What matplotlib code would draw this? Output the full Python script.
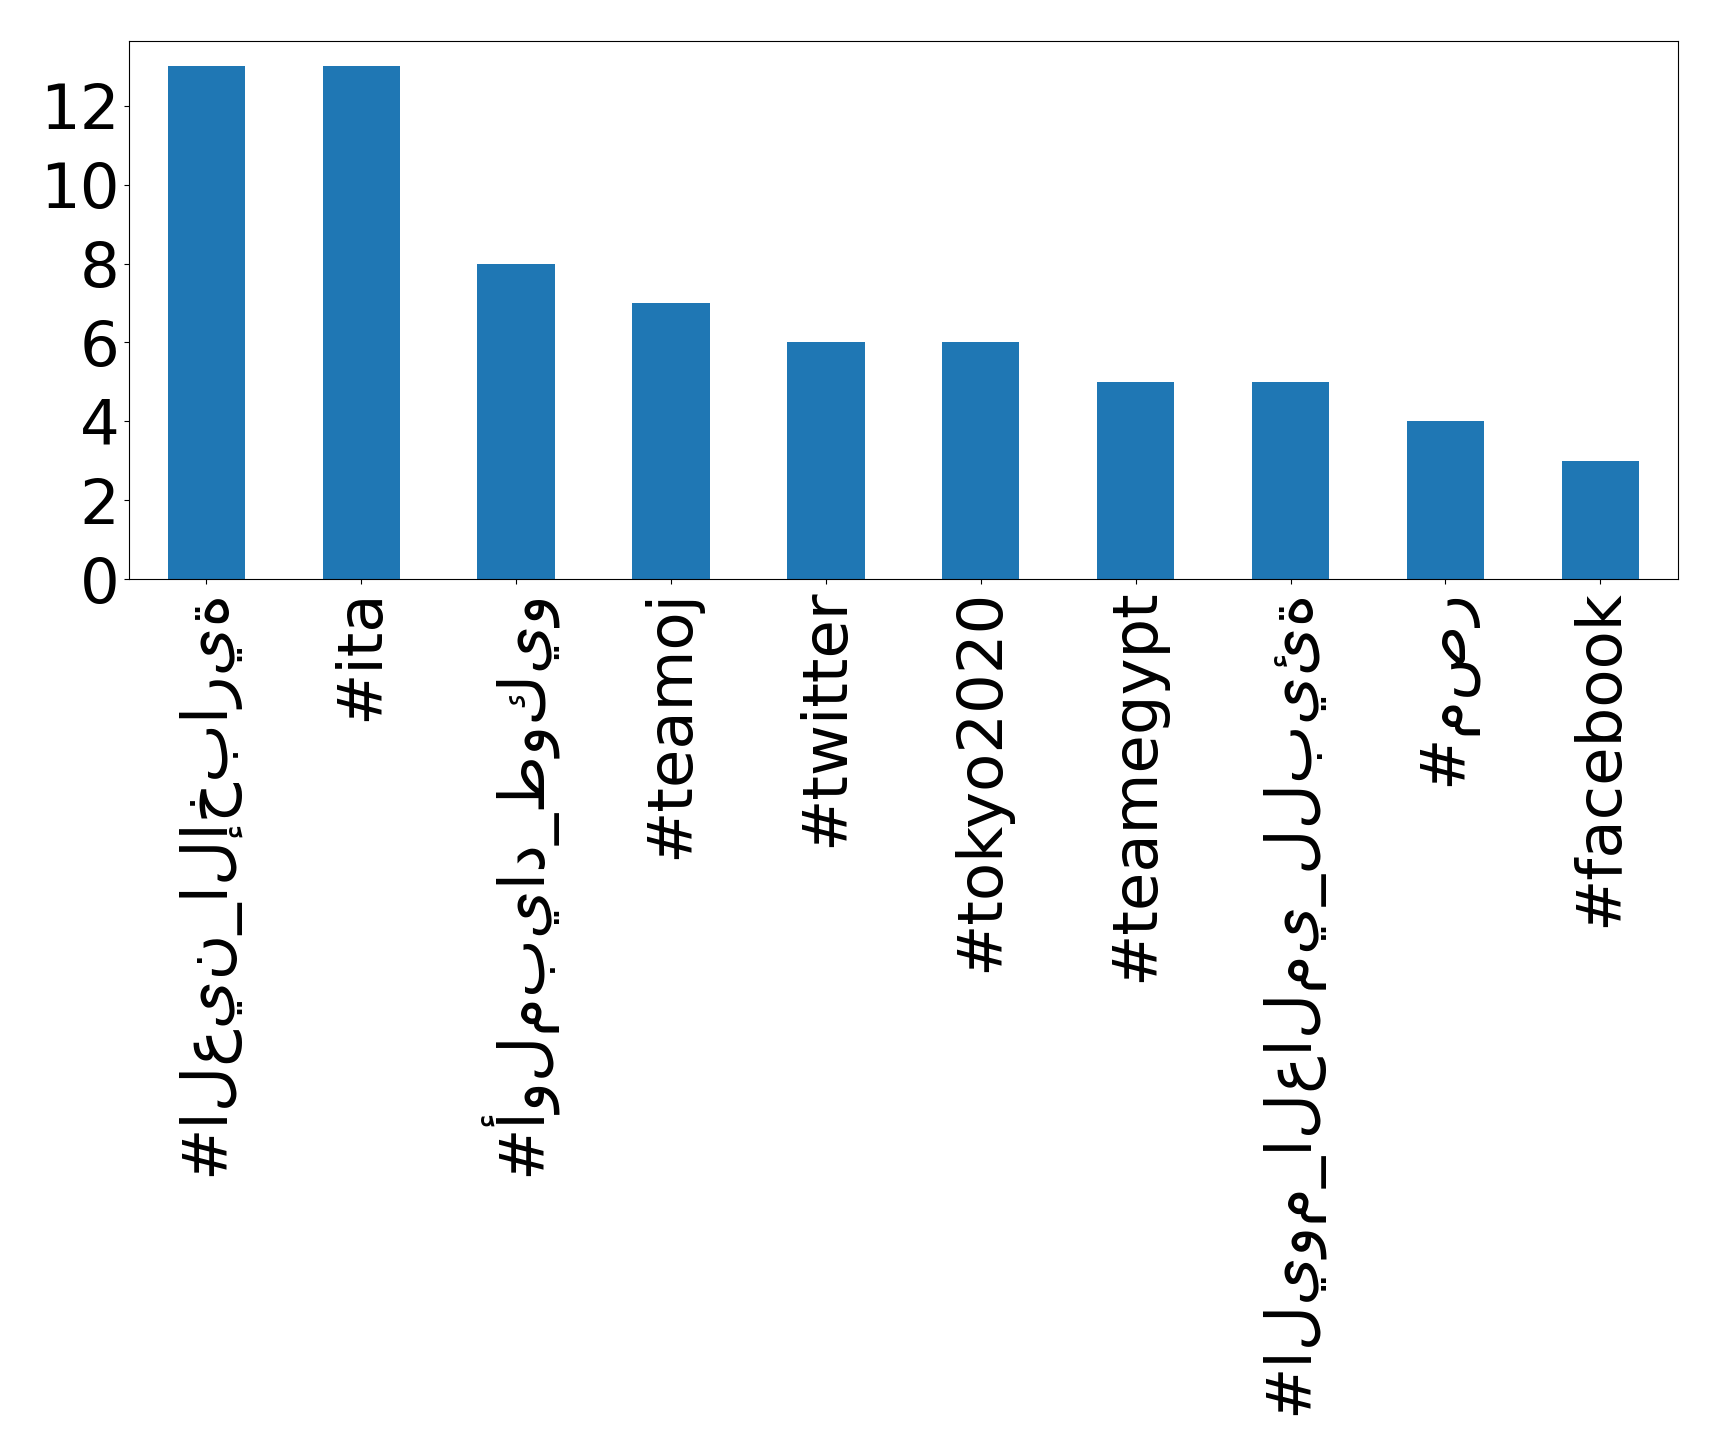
import matplotlib
matplotlib.use("Agg")
import matplotlib.pyplot as plt
import numpy as np

hashtags = [
    "#العين_الإخبارية",
    "#ita",
    "#أولمبياد_طوكيو",
    "#teamoj",
    "#twitter",
    "#tokyo2020",
    "#teamegypt",
    "#اليوم_العالمي_للبيئة",
    "#مصر",
    "#facebook",
]
counts = [13, 13, 8, 7, 6, 6, 5, 5, 4, 3]
yticks = [0, 2, 4, 6, 8, 10, 12]

fig = plt.figure(figsize=(17.19, 14.55), dpi=100)
ax = fig.add_axes([0.075, 0.602, 0.901, 0.370])

x = np.arange(len(hashtags))
ax.bar(x, counts, width=0.5, color="#1f77b4")
ax.set_xlim(-0.5, len(hashtags) - 0.5)
ax.set_ylim(0, max(counts) * 1.05)
ax.set_xticks(x)
ax.set_xticklabels(hashtags, rotation=90, fontsize=45)
ax.set_yticks(yticks)
ax.tick_params(axis="y", labelsize=45)

fig.savefig("out.png", dpi=100)
